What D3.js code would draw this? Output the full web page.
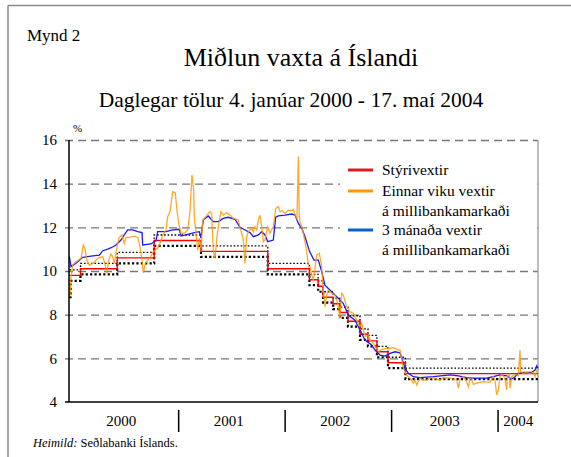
<!DOCTYPE html>
<html><head><meta charset="utf-8">
<script src="https://cdn.jsdelivr.net/npm/d3@7"></script>
<style>
html,body{margin:0;padding:0;background:#fff;}
svg{display:block;}
svg text{font-family:"Liberation Serif","Times New Roman",serif !important;}
</style></head>
<body>
<svg id="c" width="571" height="457"></svg>
<script>
// ---- data (time as decimal year, values in %) ----
const yearCategories = [2000, 2001, 2002, 2003, 2004];
const yearLabelPos = [2000.46, 2001.47, 2002.47, 2003.5, 2004.19];
const yTicks = [4, 6, 8, 10, 12, 14, 16];

const policyRate = [[1999.975,9.8],[2000.078,10.1],[2000.423,10.6],[2000.770,11.4],[2001.210,10.9],[2001.837,10.1],[2002.228,9.6],[2002.310,9.3],[2002.357,8.8],[2002.451,8.5],[2002.515,8.1],[2002.590,7.7],[2002.703,7.1],[2002.778,6.8],[2002.862,6.3],[2002.966,5.8],[2003.130,5.3],[2004.375,5.3]];
const upperBound = [[1999.975,10.05],[2000.078,10.35],[2000.423,10.85],[2000.770,11.65],[2001.210,11.15],[2001.837,10.35],[2002.228,9.85],[2002.310,9.55],[2002.357,9.05],[2002.451,8.75],[2002.515,8.35],[2002.590,7.95],[2002.703,7.35],[2002.778,7.05],[2002.862,6.55],[2002.966,6.05],[2003.130,5.55],[2004.375,5.55]];
const lowerBound = [[1999.970,8.8],[1999.985,9.55],[2000.078,9.85],[2000.423,10.35],[2000.770,11.15],[2001.210,10.65],[2001.837,9.85],[2002.228,9.35],[2002.310,9.05],[2002.357,8.55],[2002.451,8.25],[2002.515,7.85],[2002.590,7.45],[2002.703,6.85],[2002.778,6.55],[2002.862,6.05],[2002.966,5.55],[2003.130,5.05],[2004.375,5.05]];

const oneWeek = [[1999.979,8.82],[1999.989,9.74],[2000.005,10.27],[2000.036,10.42],[2000.083,10.58],[2000.104,11.19],[2000.123,10.96],[2000.136,10.5],[2000.161,10.27],[2000.193,10.35],[2000.240,10.58],[2000.287,10.66],[2000.311,10.27],[2000.324,9.89],[2000.343,10.5],[2000.364,10.78],[2000.380,10.66],[2000.395,10.35],[2000.411,10.81],[2000.427,11.27],[2000.442,11.54],[2000.467,11.65],[2000.489,11.27],[2000.505,11.54],[2000.536,11.54],[2000.583,11.6],[2000.615,11.54],[2000.637,11.11],[2000.656,10.5],[2000.668,9.92],[2000.687,10.35],[2000.725,10.58],[2000.762,10.88],[2000.803,11.04],[2000.825,11.27],[2000.850,11.65],[2000.881,11.88],[2000.897,12.49],[2000.919,12.72],[2000.944,13.63],[2000.968,13.59],[2000.984,12.79],[2001.000,12.18],[2001.022,11.73],[2001.053,11.73],[2001.085,11.88],[2001.106,12.72],[2001.125,14.4],[2001.141,13.71],[2001.147,12.49],[2001.179,10.96],[2001.194,11.5],[2001.210,11.0],[2001.226,12.3],[2001.278,12.64],[2001.294,12.72],[2001.310,12.61],[2001.325,10.96],[2001.341,10.58],[2001.357,11.42],[2001.372,12.03],[2001.397,12.72],[2001.419,12.56],[2001.451,12.67],[2001.482,12.56],[2001.513,12.41],[2001.560,12.34],[2001.576,12.0],[2001.592,11.73],[2001.607,11.42],[2001.623,10.35],[2001.639,11.57],[2001.654,11.8],[2001.686,11.95],[2001.701,11.8],[2001.717,12.03],[2001.733,11.88],[2001.748,12.34],[2001.764,12.56],[2001.780,12.03],[2001.795,11.34],[2001.811,11.42],[2001.836,12.03],[2001.858,11.73],[2001.889,12.03],[2001.912,12.87],[2001.936,12.95],[2001.952,12.72],[2001.973,12.76],[2001.999,12.64],[2002.030,12.79],[2002.062,12.76],[2002.077,12.82],[2002.093,12.56],[2002.111,12.4],[2002.124,15.24],[2002.133,12.5],[2002.140,12.26],[2002.156,12.0],[2002.171,11.73],[2002.187,11.3],[2002.203,10.9],[2002.218,10.2],[2002.233,10.2],[2002.249,9.85],[2002.264,9.55],[2002.280,10.12],[2002.296,10.73],[2002.321,10.81],[2002.343,10.2],[2002.358,9.13],[2002.374,8.37],[2002.390,8.9],[2002.405,9.13],[2002.437,8.98],[2002.468,8.9],[2002.499,8.44],[2002.515,7.83],[2002.531,8.98],[2002.546,8.9],[2002.578,8.37],[2002.609,8.14],[2002.640,8.06],[2002.672,7.75],[2002.703,7.45],[2002.719,7.6],[2002.740,7.2],[2002.759,6.99],[2002.781,7.07],[2002.797,6.84],[2002.828,6.69],[2002.853,6.5],[2002.875,6.3],[2002.907,6.41],[2002.954,6.45],[2002.985,6.45],[2003.016,6.5],[2003.063,6.38],[2003.079,6.38],[2003.094,6.0],[2003.110,5.54],[2003.141,5.24],[2003.173,5.09],[2003.204,4.86],[2003.220,5.0],[2003.236,4.78],[2003.267,5.09],[2003.298,5.0],[2003.330,5.0],[2003.361,5.1],[2003.392,5.12],[2003.424,5.05],[2003.455,5.0],[2003.486,5.12],[2003.549,5.09],[2003.612,5.0],[2003.627,4.63],[2003.643,5.09],[2003.674,5.16],[2003.705,4.93],[2003.721,4.7],[2003.737,5.09],[2003.752,5.05],[2003.767,4.81],[2003.799,4.86],[2003.861,4.93],[2003.924,4.9],[2003.955,5.16],[2003.971,5.0],[2003.987,4.32],[2004.002,4.55],[2004.018,5.16],[2004.033,5.27],[2004.049,5.2],[2004.065,5.05],[2004.081,4.55],[2004.087,5.16],[2004.106,5.27],[2004.112,4.63],[2004.128,5.16],[2004.159,5.27],[2004.190,5.2],[2004.206,6.38],[2004.212,5.39],[2004.237,5.3],[2004.268,5.36],[2004.300,5.3],[2004.331,5.36],[2004.347,5.16],[2004.363,5.46],[2004.375,5.54]];

const threeMonth = [[1999.973,10.66],[1999.989,10.2],[2000.036,10.35],[2000.099,10.63],[2000.193,10.69],[2000.255,10.73],[2000.287,10.93],[2000.334,11.0],[2000.380,11.1],[2000.411,11.19],[2000.458,11.42],[2000.489,11.65],[2000.521,11.88],[2000.568,11.88],[2000.615,11.8],[2000.656,11.76],[2000.662,11.19],[2000.740,11.24],[2000.787,11.39],[2000.803,11.8],[2000.881,11.8],[2000.944,11.88],[2001.006,11.91],[2001.022,11.6],[2001.069,11.65],[2001.147,11.76],[2001.194,11.8],[2001.210,11.54],[2001.231,12.34],[2001.278,12.52],[2001.325,12.26],[2001.372,12.26],[2001.419,12.41],[2001.466,12.46],[2001.529,12.37],[2001.576,12.0],[2001.623,11.88],[2001.670,11.76],[2001.701,11.57],[2001.748,11.65],[2001.780,11.8],[2001.811,11.65],[2001.836,11.34],[2001.889,11.42],[2001.911,12.46],[2001.936,12.52],[2001.999,12.56],[2002.061,12.61],[2002.093,12.56],[2002.124,12.18],[2002.156,11.95],[2002.187,11.57],[2002.229,10.9],[2002.271,10.5],[2002.312,10.5],[2002.342,10.0],[2002.374,9.35],[2002.437,9.05],[2002.499,8.75],[2002.546,8.52],[2002.593,7.98],[2002.656,7.75],[2002.703,7.3],[2002.750,6.84],[2002.813,6.61],[2002.844,6.38],[2002.891,6.15],[2002.938,6.1],[2002.985,6.23],[2003.032,6.3],[2003.079,6.25],[2003.110,5.8],[2003.126,5.54],[2003.157,5.31],[2003.204,5.16],[2003.267,5.12],[2003.392,5.16],[2003.549,5.24],[2003.627,5.2],[2003.705,5.12],[2003.767,5.09],[2003.893,5.09],[2003.955,5.16],[2004.018,5.24],[2004.081,5.2],[2004.128,5.05],[2004.159,5.16],[2004.190,5.31],[2004.237,5.36],[2004.316,5.36],[2004.347,5.46],[2004.363,5.66],[2004.375,5.54]];

const legendItems = [
  {lines:["Stýrivextir"], color:"#d42020"},
  {lines:["Einnar viku vextir","á millibankamarkaði"], color:"#ff9900"},
  {lines:["3 mánaða vextir","á millibankamarkaði"], color:"#0066cc"}
];

// ---- drawing ----
const FONT = "Liberation Serif, Times New Roman, serif";
const svg = d3.select("#c").attr("font-family", FONT);
const L = 69, R = 538, T = 140, B = 402;
const x = d3.scaleLinear().domain([1999.97, 2004.375]).range([L, R]);
const y = d3.scaleLinear().domain([4, 16]).range([B, T]);

function txt(sel){ return sel.append("text").attr("font-family", FONT).attr("fill","#000"); }

// outer frame
svg.append("line").attr("x1",8).attr("x2",571).attr("y1",5.5).attr("y2",5.5).attr("stroke","#8a8a8a").attr("stroke-width",1.5);
svg.append("line").attr("x1",8).attr("x2",8).attr("y1",5.5).attr("y2",457).attr("stroke","#8a8a8a").attr("stroke-width",1.5);

// texts
txt(svg).attr("x",27).attr("y",41).attr("font-size",17).text("Mynd 2");
txt(svg).attr("x",301).attr("y",66).attr("text-anchor","middle").attr("font-size",26).text("Miðlun vaxta á Íslandi");
txt(svg).attr("x",291).attr("y",107).attr("text-anchor","middle").attr("font-size",21.5).text("Daglegar tölur 4. janúar 2000 - 17. maí 2004");
txt(svg).attr("x",73).attr("y",132).attr("font-size",11).text("%");

// gridlines + y labels
const gy = svg.append("g").attr("transform",`translate(65,0)`)
  .call(d3.axisLeft(y).tickValues(yTicks).tickSize(-(R-65)).tickPadding(8).tickFormat(d3.format("d")));
gy.attr("font-family", FONT).attr("font-size", 15);
gy.select(".domain").remove();
gy.selectAll(".tick line").attr("stroke","#777").attr("stroke-width",1.3).attr("stroke-dasharray","8,5")
  .filter(d=>d===4).remove();
gy.selectAll(".tick text").attr("font-size",15).attr("font-family",FONT).attr("fill","#000");

// right border
svg.append("line").attr("x1",R).attr("x2",R).attr("y1",T).attr("y2",B).attr("stroke","#9a9a9a").attr("stroke-width",1.3);

// lines
const lineStep = d3.line().x(d=>x(d[0])).y(d=>y(d[1])).curve(d3.curveStepAfter);
const lineLin = d3.line().x(d=>x(d[0])).y(d=>y(d[1]));

svg.append("path").datum(upperBound).attr("d",lineStep).attr("fill","none").attr("stroke","#000").attr("stroke-width",1.3).attr("stroke-dasharray","1.6,1.9");
svg.append("path").datum(lowerBound).attr("d",lineStep).attr("fill","none").attr("stroke","#000").attr("stroke-width",2.2).attr("stroke-dasharray","2.2,2.2");
svg.append("path").datum(policyRate).attr("d",lineStep).attr("fill","none").attr("stroke","#ff0000").attr("stroke-width",1.4);
svg.append("path").datum(threeMonth).attr("d",lineLin).attr("fill","none").attr("stroke","#1a1aff").attr("stroke-width",1.3);
svg.append("path").datum(oneWeek).attr("d",lineLin).attr("fill","none").attr("stroke","#ff9a00").attr("stroke-width",1.3).attr("stroke-opacity",0.85);

// axes lines
svg.append("line").attr("x1",L).attr("x2",L).attr("y1",T).attr("y2",B).attr("stroke","#000").attr("stroke-width",1.5);
svg.append("line").attr("x1",65).attr("x2",R).attr("y1",B).attr("y2",B).attr("stroke","#000").attr("stroke-width",1.5);

// year separators and labels
svg.selectAll(".sep").data(yearCategories.slice(1)).enter().append("line")
  .attr("x1",d=>x(d)).attr("x2",d=>x(d)).attr("y1",410).attr("y2",432).attr("stroke","#000").attr("stroke-width",1.5);
svg.selectAll(".yl").data(yearCategories).enter().append("text")
  .attr("font-family",FONT)
  .attr("x",(d,i)=>x(yearLabelPos[i])).attr("y",426).attr("text-anchor","middle").attr("font-size",15).text(d=>d);

// legend
const lg = svg.append("g");
lg.append("rect").attr("x",340).attr("y",152).attr("width",R-341).attr("height",110).attr("fill","#fff");
const swY = [170, 191, 230];
legendItems.forEach((it,i)=>{
  lg.append("line").attr("x1",348).attr("x2",373).attr("y1",swY[i]).attr("y2",swY[i]).attr("stroke",it.color).attr("stroke-width",3);
  it.lines.forEach((t,j)=>{
    txt(lg).attr("x",382).attr("y",swY[i]+5+j*19.5).attr("font-size",15.5).text(t);
  });
});

// source
const src = txt(svg).attr("x",33).attr("y",447).attr("font-size",12.5);
src.append("tspan").attr("font-style","italic").text("Heimild:");
src.append("tspan").text(" Seðlabanki Íslands.");
</script>
</body></html>
